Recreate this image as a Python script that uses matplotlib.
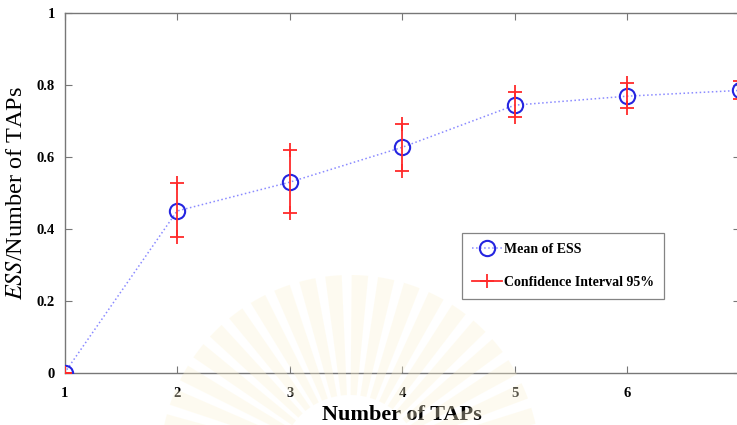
import matplotlib
matplotlib.use("Agg")
import matplotlib.pyplot as plt
from matplotlib.patches import Wedge
import numpy as np

# Mean ESS ratio and 95% confidence bounds per number of TAPs
taps = [1, 2, 3, 4, 5, 6, 7]
ess_mean = [0.0, 0.45, 0.53, 0.627, 0.744, 0.769, 0.785]
ci_low = [0.0, 0.378, 0.444, 0.562, 0.71, 0.735, 0.76]
ci_high = [0.0, 0.528, 0.619, 0.692, 0.78, 0.805, 0.81]
x_ticks = [1, 2, 3, 4, 5, 6, 7]
x_tick_labels = ["1", "2", "3", "4", "5", "6", ""]
y_ticks = [0, 0.2, 0.4, 0.6, 0.8, 1.0]
y_tick_labels = ["0", "0.2", "0.4", "0.6", "0.8", "1"]

plt.rcParams["font.family"] = ["Liberation Serif", "DejaVu Serif"]
plt.rcParams["mathtext.fontset"] = "stix"

W, H = 737, 425
fig = plt.figure(figsize=(W / 100, H / 100), dpi=100)

# faint sunburst emblem behind the axes
for ang in np.arange(15, 170, 8):
    w = Wedge((350, -40), 190, ang - 2.5, ang + 2.5, width=120,
              transform=None, facecolor="#fcf3d4", edgecolor="none",
              alpha=0.35, zorder=0)
    fig.patches.append(w)

ax = fig.add_axes([64.5 / W, 1 - 373 / H, (740 - 64.5) / W, (373 - 13) / H])
ax.set_facecolor("none")

ax.plot(taps, ess_mean, color="#8a8aff", linestyle=":", linewidth=1.1,
        marker="o", markersize=11, markerfacecolor="none",
        markeredgecolor="#2525e0", markeredgewidth=1.5,
        label="Mean of ESS", zorder=3)

for i, (x, lo, hi) in enumerate(zip(taps, ci_low, ci_high)):
    ax.plot([x, x], [lo, hi], color="#ff2a2a", linewidth=1.3,
            marker="+", markersize=10, markeredgewidth=1.3,
            label="Confidence Interval 95%" if i == 0 else None, zorder=4)

ax.set_xlim(1, 7)
ax.set_ylim(0, 1)
ax.set_xticks(x_ticks)
ax.set_xticklabels(x_tick_labels, fontweight="bold", fontsize=10.5)
ax.set_yticks(y_ticks)
ax.set_yticklabels(y_tick_labels, fontweight="bold", fontsize=10.5)
ax.tick_params(axis="both", direction="in", length=5, width=0.8, color="#777777",
               top=True, right=True)
ax.tick_params(axis="x", pad=10)
ax.tick_params(axis="y", pad=7)
for s in ax.spines.values():
    s.set_color("#777777")
    s.set_linewidth(1.0)

ax.set_xlabel("Number of TAPs", fontsize=16, fontweight="bold", labelpad=4)
ax.set_ylabel(r"$ESS$/Number of TAPs", fontsize=17.5, labelpad=7)

leg = ax.legend(loc="upper left", bbox_to_anchor=((462 - 64.5) / (740 - 64.5), (373 - 233) / 360),
                prop={"weight": "bold", "size": 10},
                frameon=True, fancybox=False, handlelength=2.2,
                borderpad=0.7, labelspacing=1.45, handletextpad=0.15,
                borderaxespad=0)
leg.get_frame().set_edgecolor("#666666")
leg.get_frame().set_linewidth(0.9)

fig.savefig("out.png", dpi=100)
